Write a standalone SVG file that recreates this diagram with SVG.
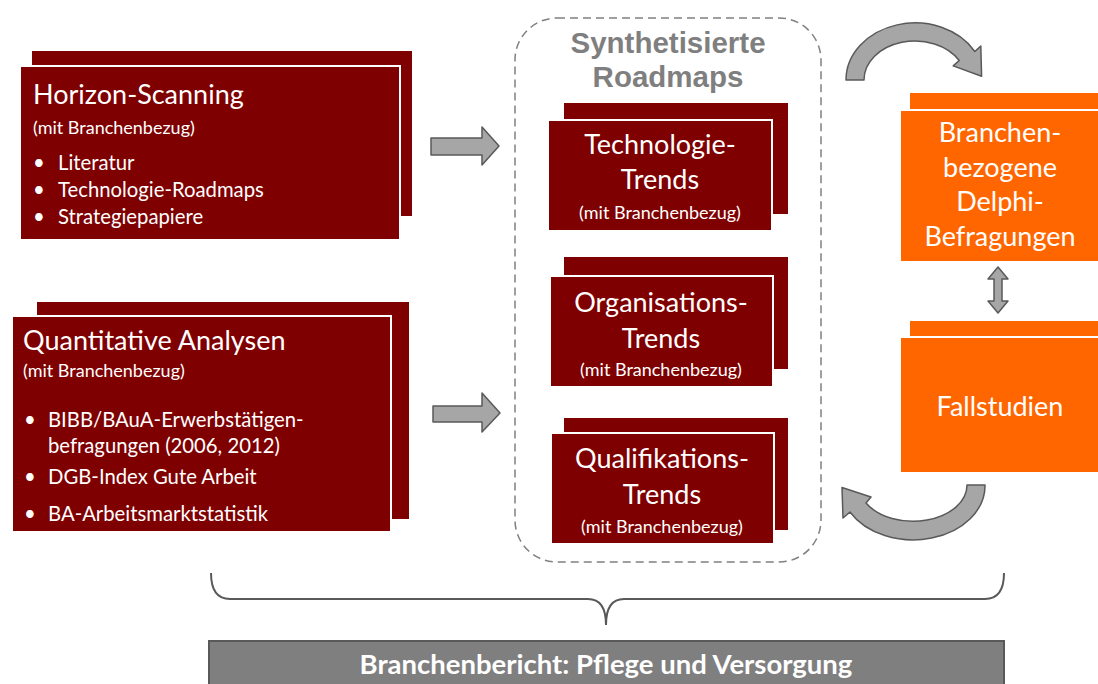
<svg xmlns="http://www.w3.org/2000/svg" width="1098" height="684" viewBox="0 0 1098 684">
<style>
.red{fill:#7f0000}
.redf{fill:#7f0000;stroke:#ffffff;stroke-width:2}
.org{fill:#ff6600}
.orgf{fill:#ff6600;stroke:#ffffff;stroke-width:2}
.t{font-family:Lato,"Open Sans",sans-serif;fill:#ffffff}
.h1{font-size:27px}
.sub{font-size:18px}
.li{font-size:20.3px}
.mid{font-size:27px;text-anchor:middle}
.ttl{font-family:"Liberation Sans",Arial,sans-serif;font-weight:bold;font-size:29.5px;fill:#7f7f7f;text-anchor:middle}
.arr{fill:#a6a6a6;stroke:#595959;stroke-width:1.5;stroke-linejoin:round}
</style>
<rect width="1098" height="684" fill="#ffffff"/>

<g id="horizon">
<rect class="red" x="32" y="51" width="380" height="165"/>
<rect class="redf" x="20" y="66" width="380" height="174"/>
<text class="t h1" x="33" y="104">Horizon-Scanning</text>
<text class="t sub" x="33" y="134">(mit Branchenbezug)</text>
<text class="t li" x="33" y="170">•</text><text class="t li" x="58" y="170">Literatur</text>
<text class="t li" x="33" y="197">•</text><text class="t li" x="58" y="197">Technologie-Roadmaps</text>
<text class="t li" x="33" y="224">•</text><text class="t li" x="58" y="224">Strategiepapiere</text>
</g>

<g id="quant">
<rect class="red" x="37" y="302" width="372" height="217"/>
<rect class="redf" x="12" y="316" width="379" height="216"/>
<text class="t h1" x="23" y="350">Quantitative Analysen</text>
<text class="t sub" x="23" y="377">(mit Branchenbezug)</text>
<text class="t li" x="24" y="427">•</text><text class="t li" x="48" y="427">BIBB/BAuA-Erwerbstätigen-</text>
<text class="t li" x="48" y="453">befragungen (2006, 2012)</text>
<text class="t li" x="24" y="484">•</text><text class="t li" x="48" y="484">DGB-Index Gute Arbeit</text>
<text class="t li" x="24" y="521">•</text><text class="t li" x="48" y="521">BA-Arbeitsmarktstatistik</text>
</g>

<g id="roadmaps">
<rect x="515" y="18" width="306" height="544" rx="42" fill="none" stroke="#808080" stroke-width="1.5" stroke-dasharray="8 5"/>
<text class="ttl" x="668" y="53">Synthetisierte</text>
<text class="ttl" x="668" y="87">Roadmaps</text>
</g>

<g id="tech">
<rect class="red" x="564" y="103" width="224" height="111"/>
<rect class="redf" x="548" y="120" width="224" height="111"/>
<text class="t mid" x="660" y="154">Technologie-</text>
<text class="t mid" x="660" y="189">Trends</text>
<text class="t sub" x="660" y="219" text-anchor="middle">(mit Branchenbezug)</text>
</g>

<g id="orga">
<rect class="red" x="564" y="257" width="224" height="112"/>
<rect class="redf" x="550" y="276" width="223" height="111"/>
<text class="t mid" x="661" y="312">Organisations-</text>
<text class="t mid" x="661" y="348">Trends</text>
<text class="t sub" x="661" y="376" text-anchor="middle">(mit Branchenbezug)</text>
</g>

<g id="quali">
<rect class="red" x="564" y="418" width="224" height="112"/>
<rect class="redf" x="551" y="433" width="223" height="111"/>
<text class="t mid" x="662" y="468">Qualifikations-</text>
<text class="t mid" x="662" y="504">Trends</text>
<text class="t sub" x="662" y="533" text-anchor="middle">(mit Branchenbezug)</text>
</g>

<g id="delphi">
<rect class="org" x="910" y="93" width="190" height="170"/>
<rect class="orgf" x="900" y="110" width="200" height="152"/>
<text class="t mid" x="1000" y="142">Branchen-</text>
<text class="t mid" x="1000" y="177">bezogene</text>
<text class="t mid" x="1000" y="211">Delphi-</text>
<text class="t mid" x="1000" y="246">Befragungen</text>
</g>

<g id="fall">
<rect class="org" x="910" y="321" width="190" height="150"/>
<rect class="orgf" x="900" y="337" width="200" height="136"/>
<text class="t mid" x="1000" y="416" font-size="28">Fallstudien</text>
</g>

<g id="report">
<rect x="209" y="641" width="795" height="50" fill="#7f7f7f" stroke="#595959" stroke-width="2"/>
<text x="606" y="674" text-anchor="middle" font-family="Lato,'Open Sans',sans-serif" font-weight="bold" font-size="27.5" fill="#ffffff">Branchenbericht: Pflege und Versorgung</text>
</g>

<g id="connectors">
<polygon class="arr" points="431,138 482,138 482,127 499,146 482,165 482,155 431,155"/>
<polygon class="arr" points="433,406 482,406 482,393 500,413 482,432 482,422 433,422"/>
<path class="arr" d="M846,80 A69 57 0 0 1 974.8,51.5 L980.8,46.1 L981.6,76.3 L953.2,65.9 L959.2,60.5 A51 39 0 0 0 864,80 Z"/>
<path class="arr" d="M985,485 A72 54 0 0 1 850,512 L843,518 L842,487.5 L871,497 L866,503 A54 36 0 0 0 967,485 Z"/>
<polygon class="arr" points="998,267 1008,279 1002,279 1002,301 1008,301 998,313 988,301 994,301 994,279 988,279"/>
<path d="M211,573 Q211,599 230,599 L588,599 Q606,599 606,625 Q606,599 624,599 L985,599 Q1004,599 1004,573" fill="none" stroke="#595959" stroke-width="2"/>
</g>
</svg>
